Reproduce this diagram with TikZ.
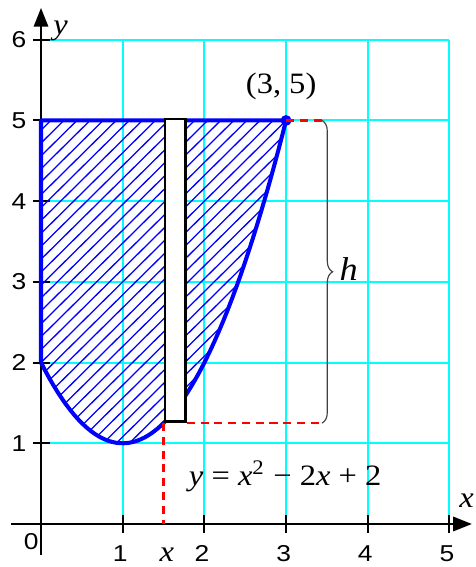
\documentclass[tikz,border=0pt]{standalone}
\usepackage{fontspec}
\setmainfont{Liberation Serif}[FakeStretch=1.1]
\newfontfamily\ticksf{Liberation Sans}[FakeStretch=1.15]
\usetikzlibrary{arrows.meta,decorations.pathreplacing}
\definecolor{gridcyan}{RGB}{0,255,255}
\definecolor{pureblue}{RGB}{0,0,255}
\definecolor{purered}{RGB}{255,0,0}
\tikzset{
  gridline/.style={gridcyan, line width=0.7pt},
  axisline/.style={black, line width=0.7pt, -{Triangle[length=6.5pt,width=5pt]}},
  tickline/.style={black, line width=0.7pt},
  regionline/.style={pureblue, line width=1.4pt, line join=round},
  hatchline/.style={pureblue, line width=0.45pt},
  strip/.style={draw=black, fill=white, line width=1pt},
  guide/.style={purered, line width=0.8pt, dash pattern=on 2.8pt off 2pt},
  bracestyle/.style={decorate, decoration={brace, amplitude=1.3mm}, line width=0.4pt, black!75},
  lbl/.style={inner sep=0pt, font=\fontsize{10.3}{12}\selectfont},
  biglbl/.style={inner sep=0pt, font=\fontsize{11.5}{13}\selectfont},
  ticklbl/.style={inner sep=0pt, font=\ticksf\fontsize{8}{9}\selectfont}
}
\begin{document}
\begin{tikzpicture}[x=1cm, y=0.988cm]
\useasboundingbox (-0.502,-0.533) rectangle (5.324,6.493);
% grid
\foreach \i in {1,...,5} \draw[gridline] (\i,0) -- (\i,6);
\foreach \j in {1,...,6} \draw[gridline] (0,\j) -- (5,\j);
% axes
\coordinate (xs) at (-0.367,0);
\coordinate (xe) at (5.275,0);
\coordinate (ys) at (0,-0.384);
\coordinate (ye) at (0,6.394);
\draw[axisline] (xs) -- (xe);
\draw[axisline] (ys) -- (ye);
\foreach \i in {1,...,5} \draw[tickline] (\i,-0.11) -- (\i,0.11);
\foreach \j in {1,...,6} \draw[tickline] (-0.1,\j) -- (0.11,\j);
% hatched region
\begin{scope}
  \clip (0,5) -- (3,5) -- plot[domain=3:0, samples=60] (\x, {\x*\x-2*\x+2}) -- cycle;
  \foreach \c in {-6.0,-5.84,...,3.2} \draw[hatchline] (\c,0) -- ({\c+6.5},6.5);
\end{scope}
\draw[regionline] (0,2) -- (0,5) -- (3,5) -- plot[domain=3:0, samples=60] (\x, {\x*\x-2*\x+2});
% strip
\node[strip, inner sep=0pt, anchor=south west, minimum width=0.25cm, minimum height=3.705cm] (rect) at (1.5,1.25) {};
% guides
\coordinate (P) at (3,5);
\coordinate (bt) at (3.44,5);
\coordinate (bb) at (3.44,1.25);
\coordinate (xa) at (1.5,0);
\fill[pureblue] (P) circle (1.9pt);
\draw[guide] (P) -- (bt);
\draw[guide] (rect.south east) -- (bb);
\draw[guide] (rect.south west) -- (xa);
\draw[bracestyle] (bt) -- (bb);
% labels
\node[lbl, anchor=base] (pl) at (2.94,5.34) {(3, 5)};
\node[biglbl, anchor=base west] (hl) at (3.65,3.02) {\textit{h}};
\node[lbl, anchor=base] (fl) at (2.99,0.48) {\textit{y} = \textit{x}\textsuperscript{2} − 2\textit{x} + 2};
\node[lbl, anchor=base] (yl) at (0.24,6.06) {\textit{y}};
\node[lbl, anchor=base] (xl) at (5.21,0.21) {\textit{x}};
\node[lbl, anchor=base] (xv) at (1.54,-0.47) {\textit{x}};
\node[ticklbl, anchor=base] (t0) at (-0.12,-0.32) {0};
\foreach \i in {1,...,5} \node[ticklbl, anchor=base] (tx\i) at ({\i-0.03},-0.47) {\i};
\foreach \j in {1,...,6} \node[ticklbl, anchor=center] (ty\j) at (-0.27,\j) {\j};
\end{tikzpicture}
\end{document}
